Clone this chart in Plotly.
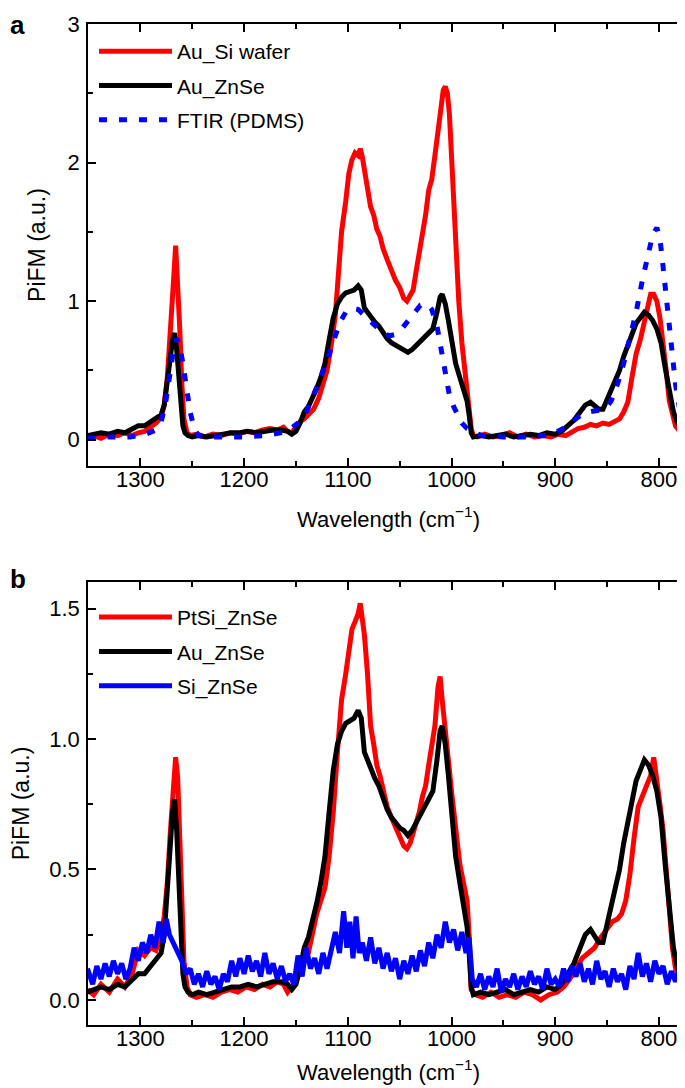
import plotly.graph_objects as go
from plotly.subplots import make_subplots

# ---------------- Panel a ----------------
au_si_wn = [1351, 1345, 1338, 1330, 1322, 1315, 1308, 1302, 1296, 1290,
            1285, 1280, 1277, 1274, 1271, 1268, 1266, 1264, 1262, 1260,
            1258, 1255, 1252, 1245, 1238, 1230, 1222, 1214, 1206, 1198,
            1190, 1182, 1175, 1168, 1162, 1158, 1154, 1150, 1146, 1142,
            1138, 1133, 1128, 1124, 1120, 1116, 1112, 1109, 1106, 1102,
            1099, 1096, 1093, 1090, 1088, 1086, 1084, 1081, 1078, 1075,
            1072, 1069, 1066, 1062, 1058, 1054, 1050, 1046, 1043, 1040,
            1037, 1034, 1031, 1028, 1025, 1022, 1019, 1016, 1013, 1010,
            1008, 1006, 1004, 1002, 1000, 998, 996, 993, 990, 987,
            984, 982, 981, 979, 975, 968, 960, 952, 944, 936,
            928, 920, 912, 904, 897, 890, 884, 878, 872, 866,
            860, 854, 848, 842, 838, 834, 830, 826, 822, 818,
            814, 811, 808, 805, 802, 799, 796, 793, 790, 787,
            784, 781, 778, 775, 771]
au_si_val = [0.02, 0.03, 0.01, 0.04, 0.03, 0.05, 0.03, 0.05, 0.06, 0.09,
             0.12, 0.16, 0.25, 0.45, 0.75, 1.15, 1.40, 1.15, 0.80, 0.40,
             0.15, 0.05, 0.03, 0.04, 0.02, 0.04, 0.03, 0.05, 0.04, 0.06,
             0.05, 0.07, 0.08, 0.07, 0.09, 0.06, 0.05, 0.09, 0.13, 0.15,
             0.18, 0.22, 0.30, 0.40, 0.50, 0.68, 0.90, 1.20, 1.50, 1.72,
             1.92, 2.02, 2.07, 2.05, 2.10, 2.04, 1.95, 1.85, 1.68, 1.62,
             1.52, 1.47, 1.38, 1.30, 1.22, 1.15, 1.10, 1.02, 1.00, 1.05,
             1.08, 1.22, 1.35, 1.48, 1.62, 1.80, 1.88, 2.05, 2.20, 2.40,
             2.52, 2.55, 2.50, 2.35, 2.05, 1.70, 1.35, 1.00, 0.70, 0.50,
             0.35, 0.22, 0.08, 0.03, 0.02, 0.04, 0.02, 0.03, 0.05, 0.02,
             0.04, 0.02, 0.03, 0.02, 0.04, 0.03, 0.06, 0.08, 0.09, 0.11,
             0.10, 0.12, 0.11, 0.13, 0.15, 0.20, 0.27, 0.45, 0.62, 0.72,
             0.85, 0.92, 1.05, 1.05, 1.00, 0.88, 0.72, 0.50, 0.28, 0.18,
             0.10, 0.07, 0.04, 0.03, 0.02]

au_znse_wn = [1351, 1345, 1338, 1330, 1322, 1315, 1308, 1302, 1296, 1290,
              1285, 1280, 1277, 1274, 1271, 1269, 1267, 1265, 1263, 1261,
              1259, 1257, 1254, 1250, 1244, 1236, 1228, 1220, 1212, 1204,
              1196, 1188, 1180, 1172, 1164, 1158, 1154, 1150, 1146, 1142,
              1138, 1134, 1130, 1126, 1122, 1118, 1114, 1110, 1106, 1102,
              1098, 1094, 1090, 1087, 1084, 1081, 1078, 1074, 1070, 1066,
              1062, 1058, 1054, 1050, 1046, 1042, 1038, 1034, 1030, 1026,
              1022, 1018, 1014, 1011, 1009, 1006, 1003, 1000, 996, 992,
              988, 985, 983, 981, 979, 972, 964, 956, 948, 940,
              932, 924, 916, 908, 900, 894, 888, 882, 876, 871,
              866, 862, 858, 854, 850, 846, 842, 838, 834, 830,
              826, 822, 818, 814, 810, 806, 802, 798, 794, 790,
              786, 782, 778, 774, 771]
au_znse_val = [0.03, 0.04, 0.05, 0.04, 0.06, 0.05, 0.08, 0.10, 0.10, 0.13,
               0.15, 0.18, 0.25, 0.40, 0.60, 0.72, 0.77, 0.65, 0.45, 0.25,
               0.10, 0.05, 0.03, 0.02, 0.03, 0.02, 0.03, 0.04, 0.05, 0.05,
               0.06, 0.05, 0.06, 0.07, 0.07, 0.06, 0.04, 0.06, 0.12, 0.20,
               0.24, 0.30, 0.37, 0.45, 0.55, 0.72, 0.88, 0.98, 1.03, 1.06,
               1.07, 1.08, 1.11, 1.08, 0.95, 0.92, 0.88, 0.85, 0.82, 0.77,
               0.73, 0.70, 0.68, 0.66, 0.65, 0.63, 0.65, 0.68, 0.71, 0.74,
               0.76, 0.80, 0.92, 1.03, 1.05, 0.98, 0.86, 0.72, 0.55, 0.45,
               0.35, 0.28, 0.18, 0.05, 0.02, 0.03, 0.02, 0.03, 0.04, 0.02,
               0.03, 0.04, 0.03, 0.05, 0.04, 0.06, 0.10, 0.14, 0.20, 0.25,
               0.27, 0.24, 0.22, 0.22, 0.29, 0.35, 0.42, 0.50, 0.60, 0.68,
               0.78, 0.84, 0.88, 0.92, 0.90, 0.86, 0.80, 0.70, 0.52, 0.35,
               0.20, 0.12, 0.08, 0.05, 0.03]

ftir_wn = [1351, 1330, 1310, 1295, 1285, 1280, 1276, 1272, 1268, 1265,
           1262, 1259, 1256, 1252, 1248, 1244, 1238, 1220, 1200, 1180,
           1165, 1155, 1148, 1140, 1133, 1126, 1120, 1114, 1108, 1102,
           1096, 1090, 1084, 1078, 1072, 1066, 1060, 1054, 1048, 1042,
           1036, 1030, 1024, 1019, 1014, 1010, 1006, 1002, 998, 994,
           990, 985, 978, 970, 950, 930, 910, 900, 890, 882,
           875, 868, 860, 852, 846, 840, 834, 828, 822, 816,
           810, 806, 802, 799, 796, 792, 788, 784, 780, 776, 771]
ftir_val = [0.01, 0.02, 0.02, 0.04, 0.07, 0.13, 0.25, 0.45, 0.65, 0.73,
            0.68, 0.55, 0.38, 0.20, 0.08, 0.03, 0.02, 0.02, 0.02, 0.03,
            0.05, 0.08, 0.12, 0.20, 0.32, 0.45, 0.57, 0.72, 0.84, 0.92,
            0.95, 0.94, 0.90, 0.85, 0.81, 0.77, 0.75, 0.76, 0.80, 0.86,
            0.92, 0.97, 0.98, 0.94, 0.82, 0.65, 0.45, 0.32, 0.24, 0.17,
            0.12, 0.08, 0.05, 0.03, 0.02, 0.02, 0.03, 0.05, 0.09, 0.14,
            0.18, 0.20, 0.21, 0.22, 0.28, 0.40, 0.55, 0.72, 0.92, 1.15,
            1.35, 1.48, 1.53, 1.45, 1.25, 0.95, 0.65, 0.40, 0.22, 0.12, 0.06]

# ---------------- Panel b ----------------
ptsi_wn = [1351, 1345, 1338, 1330, 1322, 1315, 1308, 1302, 1296, 1290,
           1285, 1280, 1277, 1274, 1271, 1268, 1266, 1264, 1262, 1260,
           1258, 1255, 1252, 1246, 1238, 1230, 1222, 1214, 1206, 1198,
           1190, 1182, 1175, 1168, 1162, 1158, 1154, 1150, 1146, 1142,
           1138, 1134, 1130, 1126, 1122, 1118, 1114, 1110, 1106, 1102,
           1099, 1096, 1093, 1090, 1088, 1086, 1084, 1081, 1078, 1075,
           1072, 1069, 1066, 1062, 1058, 1054, 1050, 1046, 1043, 1040,
           1037, 1034, 1031, 1028, 1025, 1022, 1019, 1016, 1013, 1011,
           1009, 1006, 1003, 1000, 996, 992, 988, 985, 983, 981,
           977, 970, 962, 954, 946, 938, 930, 922, 914, 906,
           898, 892, 886, 880, 874, 868, 862, 856, 850, 845,
           840, 836, 832, 828, 824, 820, 816, 812, 808, 805,
           802, 799, 796, 793, 790, 787, 784, 780, 776, 771]
ptsi_val = [0.04, 0.02, 0.06, 0.03, 0.08, 0.05, 0.10, 0.19, 0.17, 0.20,
            0.19, 0.25, 0.32, 0.45, 0.65, 0.85, 0.93, 0.85, 0.65, 0.40,
            0.15, 0.05, 0.02, 0.01, 0.02, 0.01, 0.03, 0.04, 0.03, 0.05,
            0.04, 0.06, 0.05, 0.07, 0.06, 0.03, 0.05, 0.08, 0.12, 0.15,
            0.18, 0.26, 0.33, 0.38, 0.43, 0.55, 0.72, 0.95, 1.15, 1.25,
            1.35, 1.42, 1.45, 1.48, 1.52, 1.45, 1.40, 1.25, 1.05, 0.98,
            0.90, 0.86, 0.80, 0.74, 0.70, 0.66, 0.62, 0.59, 0.58, 0.60,
            0.64, 0.68, 0.72, 0.78, 0.82, 0.90, 0.98, 1.05, 1.20, 1.24,
            1.15, 1.05, 0.92, 0.80, 0.65, 0.52, 0.44, 0.38, 0.25, 0.04,
            0.02, 0.01, 0.03, 0.01, 0.02, 0.01, 0.03, 0.02, 0.00, 0.02,
            0.03, 0.05, 0.08, 0.12, 0.16, 0.18, 0.20, 0.24, 0.27, 0.30,
            0.31, 0.33, 0.38, 0.48, 0.62, 0.74, 0.78, 0.82, 0.86, 0.93,
            0.85, 0.75, 0.65, 0.50, 0.35, 0.20, 0.12, 0.08, 0.06, 0.03]

si_znse_wn = [1351, 1346, 1342, 1338, 1334, 1330, 1326, 1322, 1318, 1314,
              1310, 1306, 1302, 1298, 1294, 1290, 1286, 1282, 1278, 1275,
              1272, 1268, 1264, 1260, 1256, 1252, 1248, 1244, 1240, 1236,
              1232, 1228, 1224, 1220, 1216, 1212, 1208, 1204, 1200, 1196,
              1192, 1188, 1184, 1180, 1176, 1172, 1168, 1164, 1160, 1156,
              1152, 1148, 1144, 1140, 1136, 1132, 1128, 1124, 1120, 1116,
              1112, 1108, 1104, 1101, 1098, 1095, 1092, 1089, 1086, 1082,
              1078, 1074, 1070, 1066, 1062, 1058, 1054, 1050, 1046, 1042,
              1038, 1034, 1030, 1026, 1022, 1018, 1014, 1010, 1006, 1002,
              998, 994, 990, 986, 983, 980, 976, 972, 968, 964,
              960, 956, 952, 948, 944, 940, 936, 932, 928, 924,
              920, 916, 912, 908, 904, 900, 896, 892, 888, 884,
              880, 876, 872, 868, 864, 860, 856, 852, 848, 844,
              840, 836, 832, 828, 824, 820, 816, 812, 808, 804,
              800, 796, 792, 788, 784, 780, 776, 772]
si_znse_val = [0.12, 0.06, 0.13, 0.08, 0.14, 0.09, 0.15, 0.10, 0.14, 0.08,
               0.12, 0.20, 0.15, 0.22, 0.18, 0.25, 0.20, 0.30, 0.22, 0.31,
               0.25, 0.22, 0.18, 0.15, 0.10, 0.12, 0.06, 0.10, 0.05, 0.11,
               0.06, 0.09, 0.04, 0.10, 0.07, 0.15, 0.09, 0.16, 0.10, 0.17,
               0.11, 0.15, 0.09, 0.18, 0.10, 0.14, 0.08, 0.13, 0.07, 0.10,
               0.06, 0.17, 0.09, 0.20, 0.12, 0.16, 0.10, 0.18, 0.12, 0.20,
               0.26, 0.18, 0.34, 0.20, 0.30, 0.16, 0.32, 0.18, 0.22, 0.15,
               0.24, 0.14, 0.20, 0.12, 0.18, 0.11, 0.16, 0.08, 0.15, 0.10,
               0.17, 0.11, 0.19, 0.13, 0.22, 0.16, 0.25, 0.20, 0.30, 0.22,
               0.27, 0.19, 0.26, 0.18, 0.24, 0.08, 0.05, 0.10, 0.04, 0.09,
               0.05, 0.12, 0.03, 0.08, 0.05, 0.10, 0.04, 0.09, 0.05, 0.11,
               0.06, 0.09, 0.04, 0.12, 0.06, 0.08, 0.05, 0.12, 0.07, 0.13,
               0.09, 0.14, 0.07, 0.12, 0.06, 0.15, 0.08, 0.11, 0.05, 0.12,
               0.07, 0.10, 0.04, 0.13, 0.08, 0.18, 0.09, 0.14, 0.07, 0.15,
               0.10, 0.13, 0.06, 0.11, 0.07, 0.12, 0.06, 0.04]

x_range = [1350.5, 771]
x_ticks = [1300, 1200, 1100, 1000, 900, 800]
ya_ticks = [0, 1, 2, 3]
yb_ticks = [0.0, 0.5, 1.0, 1.5]

FONT = "Liberation Sans, Arial, Helvetica, sans-serif"
RED = "#ff0000"
BLACK = "#000000"
BLUE = "#0000ff"
LW = 5

fig = make_subplots(rows=2, cols=1, vertical_spacing=0.0)

fig.add_trace(go.Scatter(x=au_si_wn, y=au_si_val, name="Au_Si wafer", mode="lines",
                         line=dict(color=RED, width=LW), legend="legend", legendgroup="a1"), row=1, col=1)
fig.add_trace(go.Scatter(x=au_znse_wn, y=au_znse_val, name="Au_ZnSe", mode="lines",
                         line=dict(color=BLACK, width=LW), legend="legend", legendgroup="a2"), row=1, col=1)
fig.add_trace(go.Scatter(x=ftir_wn, y=ftir_val, name="FTIR (PDMS)", mode="lines",
                         line=dict(color=BLUE, width=LW, dash="8px,12px"), legend="legend", legendgroup="a3"), row=1, col=1)

fig.add_trace(go.Scatter(x=ptsi_wn, y=ptsi_val, name="PtSi_ZnSe", mode="lines",
                         line=dict(color=RED, width=LW), legend="legend2", legendgroup="b1"), row=2, col=1)
fig.add_trace(go.Scatter(x=au_znse_wn, y=au_znse_val, name="Au_ZnSe", mode="lines",
                         line=dict(color=BLACK, width=LW), legend="legend2", legendgroup="b2"), row=2, col=1)
fig.add_trace(go.Scatter(x=si_znse_wn, y=si_znse_val, name="Si_ZnSe", mode="lines",
                         line=dict(color=BLUE, width=LW), legend="legend2", legendgroup="b3"), row=2, col=1)

axis_common = dict(showline=True, linecolor="black", linewidth=1.5, mirror="allticks",
                   ticks="inside", ticklen=8, tickwidth=1.5, tickcolor="black",
                   showgrid=False, zeroline=False, automargin=False,
                   tickfont=dict(family=FONT, size=22, color="black"))

x_minor = dict(ticks="inside", ticklen=5, tickwidth=1.5, tickcolor="black", dtick=50, tick0=0, showgrid=False)
x_title_font = dict(family=FONT, size=22, color="black")

fig.update_xaxes(axis_common, range=x_range, tickvals=x_ticks, ticklabelstandoff=-7, minor=x_minor,
                 title=dict(text="Wavelength (cm<sup>−1</sup>)", font=x_title_font, standoff=20),
                 row=1, col=1)
fig.update_xaxes(axis_common, range=x_range, tickvals=x_ticks, ticklabelstandoff=-7, minor=x_minor,
                 title=dict(text="Wavelength (cm<sup>−1</sup>)", font=x_title_font, standoff=14),
                 row=2, col=1)

fig.update_yaxes(axis_common, range=[-0.19, 3.0], tickvals=ya_ticks, ticklabelstandoff=2,
                 minor=dict(ticks="inside", ticklen=5, tickwidth=1.5, tickcolor="black", dtick=0.5, tick0=0, showgrid=False),
                 title=dict(text="PiFM (a.u.)", font=dict(family=FONT, size=23, color="black"), standoff=16),
                 domain=[0.5584, 1.0], row=1, col=1)
fig.update_yaxes(axis_common, range=[-0.096, 1.602], tickvals=yb_ticks, tickformat=".1f", ticklabelstandoff=2,
                 minor=dict(ticks="inside", ticklen=5, tickwidth=1.5, tickcolor="black", dtick=0.25, tick0=0, showgrid=False),
                 title=dict(text="PiFM (a.u.)", font=dict(family=FONT, size=23, color="black"), standoff=14),
                 domain=[0.0, 0.4426], row=2, col=1)

legend_common = dict(bgcolor="rgba(0,0,0,0)", borderwidth=0, font=dict(family=FONT, size=21, color="black"),
                     xanchor="left", yanchor="top", tracegroupgap=4, itemwidth=73)

fig.update_layout(
    width=685, height=1088,
    margin=dict(l=80, r=4, t=16, b=71, autoexpand=False),
    paper_bgcolor="white", plot_bgcolor="white",
    showlegend=True,
    legend=dict(legend_common, x=0.01, y=0.993),
    legend2=dict(legend_common, x=0.01, y=0.4276),
    annotations=[
        dict(text="<b>a</b>", x=-0.133, y=1.016, xref="paper", yref="paper", xanchor="left", yanchor="top",
             showarrow=False, font=dict(family=FONT, size=26, color="black")),
        dict(text="<b>b</b>", x=-0.133, y=0.4456, xref="paper", yref="paper", xanchor="left", yanchor="middle",
             showarrow=False, font=dict(family=FONT, size=26, color="black")),
    ],
)

fig.write_html("out.html")
